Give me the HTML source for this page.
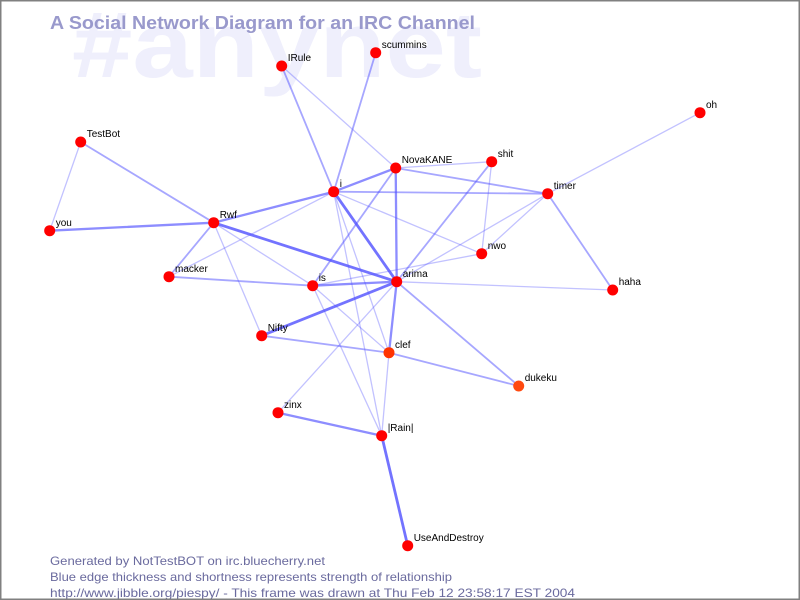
<!DOCTYPE html>
<html><head><meta charset="utf-8"><style>
html,body{margin:0;padding:0;background:#fff;}
svg{display:block;}
</style></head><body>
<svg width="800" height="600" viewBox="0 0 800 600" xmlns="http://www.w3.org/2000/svg">
<rect x="0" y="0" width="800" height="600" fill="#ffffff"/>
<text x="72" y="77" font-family="Liberation Sans, DejaVu Sans, sans-serif" font-size="94" font-weight="bold" fill="#efeffc" textLength="410" lengthAdjust="spacingAndGlyphs">#anynet</text>
<text x="50" y="29" font-family="Liberation Sans, DejaVu Sans, sans-serif" font-size="18" font-weight="bold" fill="#9999cc" textLength="425" lengthAdjust="spacingAndGlyphs">A Social Network Diagram for an IRC Channel</text>

<g stroke="#5050ff" stroke-linecap="round" fill="none">
<g stroke-width="1.3" stroke-opacity="0.35">
<line x1="281.7" y1="66" x2="395.7" y2="168"/>
<line x1="80.7" y1="142" x2="49.7" y2="230.7"/>
<line x1="213.7" y1="222.7" x2="261.7" y2="335.7"/>
<line x1="213.7" y1="222.7" x2="312.7" y2="285.7"/>
<line x1="169" y1="276.7" x2="333.7" y2="191.7"/>
<line x1="333.7" y1="191.7" x2="481.7" y2="253.7"/>
<line x1="333.7" y1="191.7" x2="389" y2="352.7"/>
<line x1="333.7" y1="191.7" x2="381.7" y2="435.7"/>
<line x1="395.7" y1="168" x2="491.7" y2="161.7"/>
<line x1="491.7" y1="161.7" x2="481.7" y2="253.7"/>
<line x1="547.7" y1="193.7" x2="481.7" y2="253.7"/>
<line x1="547.7" y1="193.7" x2="700" y2="112.7"/>
<line x1="396.7" y1="281.7" x2="547.7" y2="193.7"/>
<line x1="396.7" y1="281.7" x2="612.7" y2="290"/>
<line x1="312.7" y1="285.7" x2="481.7" y2="253.7"/>
<line x1="396.7" y1="281.7" x2="278" y2="412.7"/>
<line x1="312.7" y1="285.7" x2="389" y2="352.7"/>
<line x1="312.7" y1="285.7" x2="381.7" y2="435.7"/>
<line x1="389" y1="352.7" x2="381.7" y2="435.7"/>
</g>
<g stroke-width="1.8" stroke-opacity="0.5">
<line x1="80.7" y1="142" x2="213.7" y2="222.7"/>
<line x1="375.7" y1="52.7" x2="333.7" y2="191.7"/>
<line x1="281.7" y1="66" x2="333.7" y2="191.7"/>
<line x1="395.7" y1="168" x2="312.7" y2="285.7"/>
<line x1="491.7" y1="161.7" x2="396.7" y2="281.7"/>
<line x1="547.7" y1="193.7" x2="612.7" y2="290"/>
<line x1="261.7" y1="335.7" x2="389" y2="352.7"/>
<line x1="389" y1="352.7" x2="518.7" y2="386"/>
<line x1="396.7" y1="281.7" x2="518.7" y2="386"/>
<line x1="169" y1="276.7" x2="312.7" y2="285.7"/>
<line x1="333.7" y1="191.7" x2="547.7" y2="193.7"/>
<line x1="395.7" y1="168" x2="547.7" y2="193.7"/>
<line x1="213.7" y1="222.7" x2="169" y2="276.7"/>
</g>
<g stroke-width="2.3" stroke-opacity="0.65">
<line x1="333.7" y1="191.7" x2="395.7" y2="168"/>
<line x1="213.7" y1="222.7" x2="333.7" y2="191.7"/>
<line x1="49.7" y1="230.7" x2="213.7" y2="222.7"/>
<line x1="312.7" y1="285.7" x2="396.7" y2="281.7"/>
<line x1="395.7" y1="168" x2="396.7" y2="281.7"/>
<line x1="278" y1="412.7" x2="381.7" y2="435.7"/>
<line x1="396.7" y1="281.7" x2="389" y2="352.7"/>
</g>
<g stroke-width="2.8" stroke-opacity="0.8">
<line x1="333.7" y1="191.7" x2="396.7" y2="281.7"/>
<line x1="213.7" y1="222.7" x2="396.7" y2="281.7"/>
<line x1="396.7" y1="281.7" x2="261.7" y2="335.7"/>
<line x1="381.7" y1="435.7" x2="407.7" y2="545.7"/>
</g>
</g>

<g fill="#ff0000">
<circle cx="281.7" cy="66" r="5.5"/>
<circle cx="375.7" cy="52.7" r="5.5"/>
<circle cx="80.7" cy="142" r="5.5"/>
<circle cx="49.7" cy="230.7" r="5.5"/>
<circle cx="213.7" cy="222.7" r="5.5"/>
<circle cx="333.7" cy="191.7" r="5.5"/>
<circle cx="395.7" cy="168" r="5.5"/>
<circle cx="491.7" cy="161.7" r="5.5"/>
<circle cx="547.7" cy="193.7" r="5.5"/>
<circle cx="700" cy="112.7" r="5.5"/>
<circle cx="481.7" cy="253.7" r="5.5"/>
<circle cx="169" cy="276.7" r="5.5"/>
<circle cx="312.7" cy="285.7" r="5.5"/>
<circle cx="396.7" cy="281.7" r="5.5"/>
<circle cx="612.7" cy="290" r="5.5"/>
<circle cx="261.7" cy="335.7" r="5.5"/>
<circle cx="389" cy="352.7" r="5.5" fill="#ff3300"/>
<circle cx="518.7" cy="386" r="5.5" fill="#ff4a10"/>
<circle cx="278" cy="412.7" r="5.5"/>
<circle cx="381.7" cy="435.7" r="5.5"/>
<circle cx="407.7" cy="545.7" r="5.5"/>
</g>

<g font-family="Liberation Sans, DejaVu Sans, sans-serif" font-size="10" fill="#000">
<text x="287.7" y="61">IRule</text>
<text x="381.7" y="48">scummins</text>
<text x="86.7" y="137">TestBot</text>
<text x="55.7" y="226">you</text>
<text x="219.7" y="218">Rwf</text>
<text x="339.7" y="187">i</text>
<text x="401.7" y="163">NovaKANE</text>
<text x="497.7" y="157">shit</text>
<text x="553.7" y="189">timer</text>
<text x="706" y="108">oh</text>
<text x="487.7" y="249">nwo</text>
<text x="175" y="272">macker</text>
<text x="318.7" y="281">is</text>
<text x="402.7" y="277">arima</text>
<text x="618.7" y="285">haha</text>
<text x="267.7" y="331">Nifty</text>
<text x="395" y="348">clef</text>
<text x="524.7" y="381">dukeku</text>
<text x="284" y="408">zinx</text>
<text x="387.7" y="431">|Rain|</text>
<text x="413.7" y="541">UseAndDestroy</text>
</g>

<g font-family="Liberation Sans, DejaVu Sans, sans-serif" font-size="12" fill="#6a6a9e">
<text x="50" y="565" textLength="275" lengthAdjust="spacingAndGlyphs">Generated by NotTestBOT on irc.bluecherry.net</text>
<text x="50" y="581" textLength="402" lengthAdjust="spacingAndGlyphs">Blue edge thickness and shortness represents strength of relationship</text>
<text x="50" y="597" textLength="525" lengthAdjust="spacingAndGlyphs">http://www.jibble.org/piespy/ - This frame was drawn at Thu Feb 12 23:58:17 EST 2004</text>
</g>

<rect x="0.75" y="0.75" width="798.5" height="598.5" fill="none" stroke="#808080" stroke-width="1.5"/>
</svg>
</body></html>
